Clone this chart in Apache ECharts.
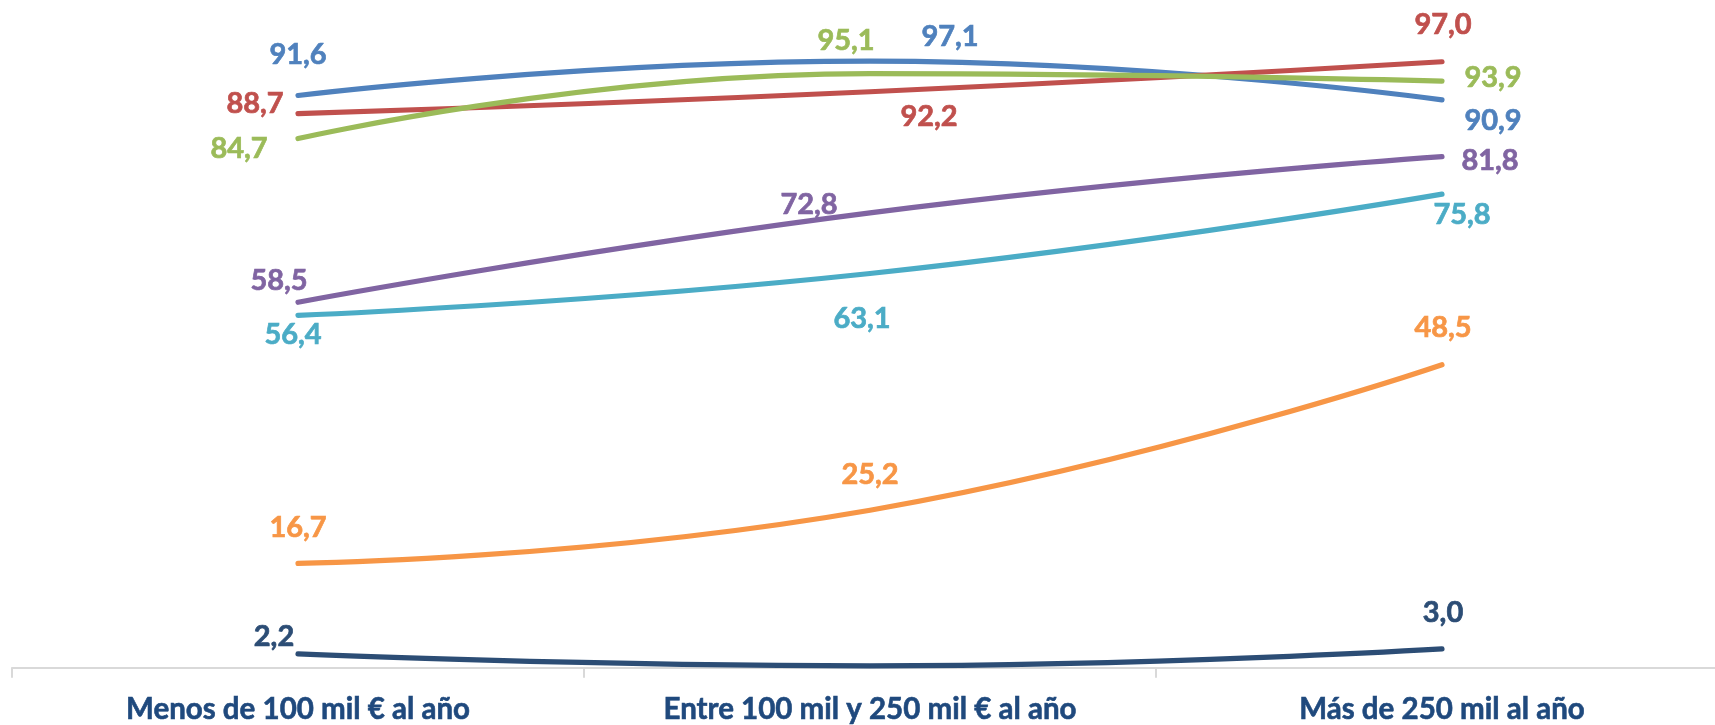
<!DOCTYPE html>
<html>
<head>
<meta charset="utf-8">
<title>Gráfico</title>
<script src="https://cdn.jsdelivr.net/npm/echarts@6/dist/echarts.min.js"></script>
<style>
  html, body { margin: 0; padding: 0; background: #ffffff; overflow: hidden; }
  /* the category axis runs slightly past the right edge of the window */
  #chart { width: 1730px; height: 725px; }
</style>
</head>
<body>
<div id="chart"></div>
<script>
// Income brackets on the category axis
const categories = ['Menos de 100 mil € al año', 'Entre 100 mil y 250 mil € al año', 'Más de 250 mil al año'];

// Percentages per series, one value per bracket
const serieAzul     = [91.6, 97.1, 90.9];
const serieRoja     = [88.7, 92.2, 97.0];
const serieVerde    = [84.7, 95.1, 93.9];
const serieMorada   = [58.5, 72.8, 81.8];
const serieTurquesa = [56.4, 63.1, 75.8];
const serieNaranja  = [16.7, 25.2, 48.5];
const serieMarino   = [2.2, 0.3, 3.0];

// Which points carry a value label
const labelVisible = {
  marino: [true, false, true]
};

// Label placement (pixel offset of the label centre from its point)
const labelOffsets = {
  azul:     [[0, -41], [80, -24], [51, 21]],
  roja:     [[-43, -10], [59, 25], [1, -37]],
  verde:    [[-59, 10], [-24, -33], [51, -3]],
  morada:   [[-19, -22], [-61, -8], [48, 4]],
  turquesa: [[-5, 19], [-8, 45], [20, 20]],
  naranja:  [[0, -36], [0, -36], [1, -37]],
  marino:   [[-24, -17], [0, -30], [1, -36]]
};

const colors = {
  azul: '#4F81BD',
  roja: '#C0504D',
  verde: '#9BBB59',
  morada: '#8064A2',
  turquesa: '#4BACC6',
  naranja: '#F79646',
  marino: '#2C4D75'
};

const FONT = 'Lato';

function fmt(v) {
  return v.toFixed(1).replace('.', ',');
}

function makeSeries(key, values) {
  const color = colors[key];
  const vis = labelVisible[key] || values.map(() => true);
  return {
    name: key,
    type: 'line',
    smooth: 0.5,
    symbol: 'circle',
    symbolSize: 2,
    showSymbol: true,
    lineStyle: { color: color, width: 5.2, cap: 'round', join: 'round' },
    itemStyle: { color: color },
    emphasis: { disabled: true },
    data: values.map((v, i) => ({
      value: v,
      label: {
        show: vis[i],
        position: 'inside',
        offset: labelOffsets[key][i],
        formatter: (p) => fmt(p.value),
        color: color,
        textBorderColor: color,
        textBorderWidth: 0.7,
        fontFamily: FONT,
        fontWeight: 'bold',
        fontSize: 29
      }
    }))
  };
}

const chart = echarts.init(document.getElementById('chart'), null, { renderer: 'canvas' });

chart.setOption({
  animation: false,
  backgroundColor: '#ffffff',
  grid: { left: 12, top: 43, right: 2, bottom: 53, containLabel: false },
  xAxis: {
    type: 'category',
    data: categories,
    boundaryGap: true,
    axisLine: { show: true, lineStyle: { color: '#D9D9D9', width: 2 } },
    axisTick: { show: true, length: 10, lineStyle: { color: '#D9D9D9', width: 2 } },
    axisLabel: {
      margin: 27,
      color: '#1F497D',
      textBorderColor: '#1F497D',
      textBorderWidth: 0.6,
      fontFamily: FONT,
      fontWeight: 'bold',
      fontSize: 29.5,
      lineHeight: 30
    },
    splitLine: { show: false }
  },
  yAxis: {
    type: 'value',
    min: 0,
    max: 100,
    interval: 20,
    show: false
  },
  series: [
    makeSeries('marino', serieMarino),
    makeSeries('naranja', serieNaranja),
    makeSeries('turquesa', serieTurquesa),
    makeSeries('morada', serieMorada),
    makeSeries('azul', serieAzul),
    makeSeries('roja', serieRoja),
    makeSeries('verde', serieVerde)
  ]
});
</script>
</body>
</html>
